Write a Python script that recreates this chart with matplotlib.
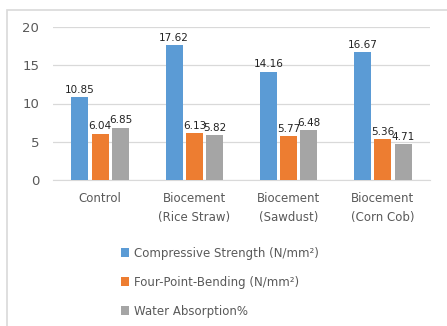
import numpy as np
from matplotlib import pyplot as plt
from matplotlib.patches import Rectangle

categorias = ["Control", "Biocement\n(Rice Straw)", "Biocement\n(Sawdust)", "Biocement\n(Corn Cob)"]
compresion = [10.85, 17.62, 14.16, 16.67]
flexion = [6.04, 6.13, 5.77, 5.36]
absorcion = [6.85, 5.82, 6.48, 4.71]
series = ["Compressive Strength (N/mm²)", "Four-Point-Bending (N/mm²)", "Water Absorption%"]
colores = ["#5B9BD5", "#ED7D31", "#A5A5A5"]

fig = plt.figure(figsize=(4.47, 3.26), dpi=100)
fig.patches.append(Rectangle((7/447, -0.1), 1.2, 1 - 10/326 + 0.1, transform=fig.transFigure,
                             fill=False, edgecolor="#D9D9D9", linewidth=1.2))
ax = fig.add_axes([53/447, 1 - 180/326, 377/447, 153/326])

x = np.arange(len(categorias))
ancho = 0.18
paso = 0.215
for i, (vals, nombre, col) in enumerate(zip([compresion, flexion, absorcion], series, colores)):
    pos = x + (i - 1) * paso
    ax.bar(pos, vals, ancho, color=col, label=nombre, zorder=3)
    for p, v in zip(pos, vals):
        ax.text(p, v + 0.3, f"{v:.2f}", ha="center", va="bottom", fontsize=7.5, color="#222222", zorder=4)

ax.set_xlim(-0.5, 3.5)
ax.set_ylim(0, 20)
ax.set_yticks([0, 5, 10, 15, 20])
ax.yaxis.grid(True, color="#D9D9D9", linewidth=0.9, zorder=0)
for s in ["top", "right", "left"]:
    ax.spines[s].set_visible(False)
ax.spines["bottom"].set_color("#D9D9D9")
ax.tick_params(axis="both", length=0, colors="#595959", labelsize=9.5)
ax.tick_params(axis="y", pad=10)
ax.tick_params(axis="x", pad=9)
ax.set_xticks(x)
ax.set_xticklabels(categorias, fontsize=8.5, color="#595959", linespacing=1.55)

ax.legend(loc="upper left", bbox_to_anchor=(110/447, 1 - 236/326), bbox_transform=fig.transFigure,
          frameon=False, fontsize=8.5, labelcolor="#595959", handlelength=0.7, handleheight=0.7,
          handletextpad=0.4, labelspacing=1.35)

plt.savefig("out.png", dpi=100)
